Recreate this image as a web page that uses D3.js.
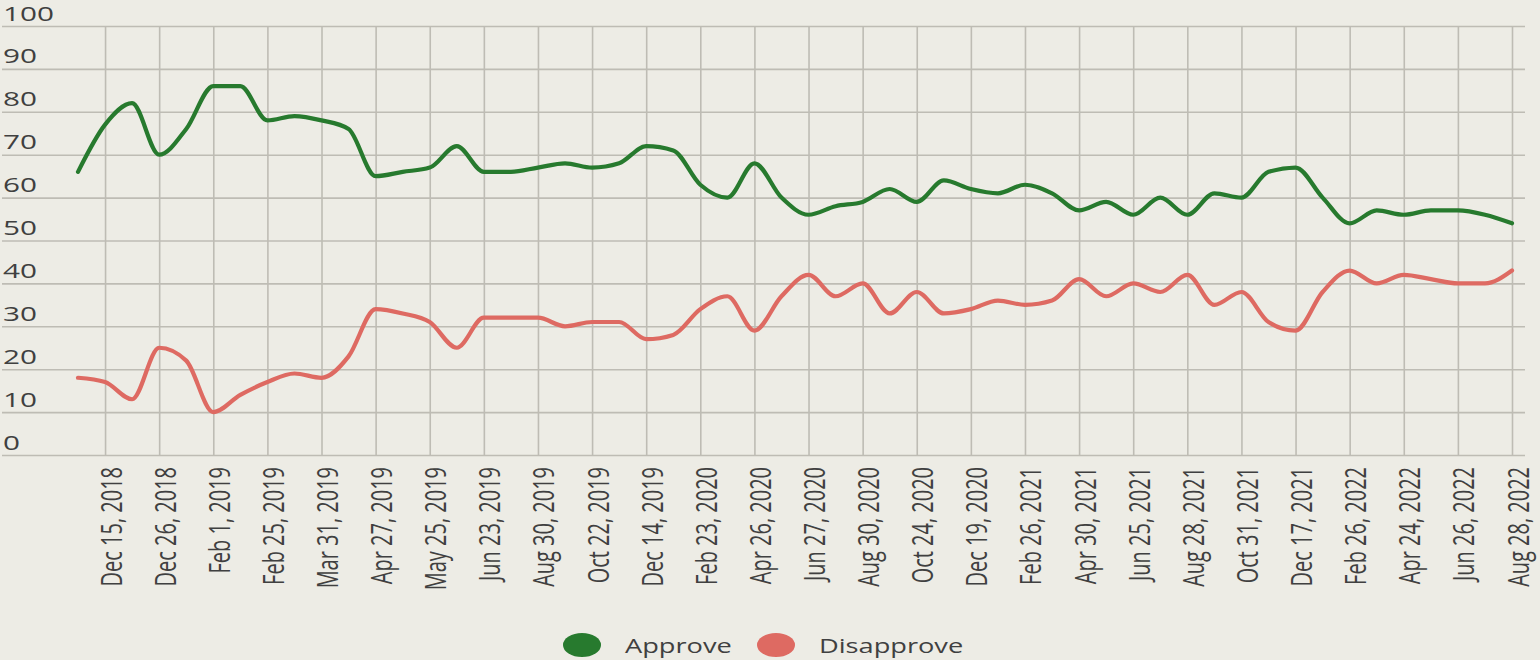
<!DOCTYPE html>
<html>
<head>
<meta charset="utf-8">
<script src="https://cdn.jsdelivr.net/npm/d3@7"></script>
<style>
  html, body { margin: 0; padding: 0; background: #edece5; }
  svg { display: block; }
</style>
</head>
<body>
<svg id="chart" width="1540" height="660"></svg>
<script>
const tickLabels = ["Dec 15, 2018","Dec 26, 2018","Feb 1, 2019","Feb 25, 2019","Mar 31, 2019","Apr 27, 2019","May 25, 2019","Jun 23, 2019","Aug 30, 2019","Oct 22, 2019","Dec 14, 2019","Feb 23, 2020","Apr 26, 2020","Jun 27, 2020","Aug 30, 2020","Oct 24, 2020","Dec 19, 2020","Feb 26, 2021","Apr 30, 2021","Jun 25, 2021","Aug 28, 2021","Oct 31, 2021","Dec 17, 2021","Feb 26, 2022","Apr 24, 2022","Jun 26, 2022","Aug 28, 2022"];

const approve = [66,77,82,70,76,86,86,78,79,78,76,65,66,67,72,66,66,67,68,67,68,72,71,63,60,68,60,56,58,59,62,59,64,62,61,63,61,57,59,56,60,56,61,60,66,67,60,54,57,56,57,57,56,54];
const disapprove = [18,17,13,25,22,10,14,17,19,18,23,34,33,31,25,32,32,32,30,31,31,27,28,34,37,29,37,42,37,40,33,38,33,34,36,35,36,41,37,40,38,42,35,38,31,29,38,43,40,42,41,40,40,43];

const seriesNames = ["Approve", "Disapprove"];
const seriesColors = ["#277a2e", "#de6a62"];
const yTicks = [0,10,20,30,40,50,60,70,80,90,100];

const svg = d3.select("#chart");
const stretch = 1.45;
const font = "'Open Sans', 'Noto Sans', sans-serif";
const textColor = "#404040";
const gridColor = "#bebcb4";

const x = d3.scaleLinear().domain([0, approve.length - 1]).range([78, 1512]);
const y = d3.scaleLinear().domain([0, 100]).range([455, 26]);

// horizontal grid + y labels
const yAxis = svg.append("g").attr("transform", "translate(2,0)")
  .call(d3.axisLeft(y).tickValues(yTicks).tickSize(-1523).tickFormat(d3.format("d")));
yAxis.select(".domain").remove();
yAxis.selectAll(".tick line").attr("stroke", gridColor).attr("stroke-width", 1.6);
yAxis.selectAll(".tick text")
  .attr("x", 0).attr("dy", 0)
  .attr("transform", `translate(1,-6) scale(${stretch},1)`)
  .attr("text-anchor", "start")
  .attr("fill", textColor)
  .style("font-family", font).style("font-size", "20.5px");

// vertical grid + x labels
const tickIdx = tickLabels.map((_, i) => 2 * i + 1);
const xAxis = svg.append("g").attr("transform", "translate(0,455)")
  .call(d3.axisBottom(x).tickValues(tickIdx).tickSize(-(455 - 26))
    .tickFormat(d => tickLabels[(d - 1) / 2]));
xAxis.select(".domain").remove();
xAxis.selectAll(".tick line").attr("stroke", gridColor).attr("stroke-width", 1.6);
xAxis.selectAll(".tick text")
  .attr("x", 0).attr("y", 0).attr("dy", 0)
  .attr("transform", `translate(16,12) scale(${stretch},1) rotate(-90)`)
  .attr("text-anchor", "end")
  .attr("fill", textColor)
  .style("font-family", font).style("font-size", "20px");

// lines
const line = d3.line().x((d, i) => x(i)).y(d => y(d)).curve(d3.curveMonotoneX);
[approve, disapprove].forEach((s, k) => {
  svg.append("path").datum(s)
    .attr("d", line)
    .attr("fill", "none")
    .attr("stroke", seriesColors[k])
    .attr("stroke-width", 4.2)
    .attr("stroke-linejoin", "round")
    .attr("stroke-linecap", "round");
});

// legend
const legendX = [582, 776];
const legend = svg.append("g");
seriesNames.forEach((name, k) => {
  legend.append("ellipse")
    .attr("cx", legendX[k]).attr("cy", 645)
    .attr("rx", 19).attr("ry", 12)
    .attr("fill", seriesColors[k]);
  legend.append("text")
    .attr("transform", `translate(${legendX[k] + 43},653) scale(1.36,1)`)
    .attr("fill", textColor)
    .style("font-family", font).style("font-size", "20px")
    .text(name);
});
</script>
</body>
</html>
